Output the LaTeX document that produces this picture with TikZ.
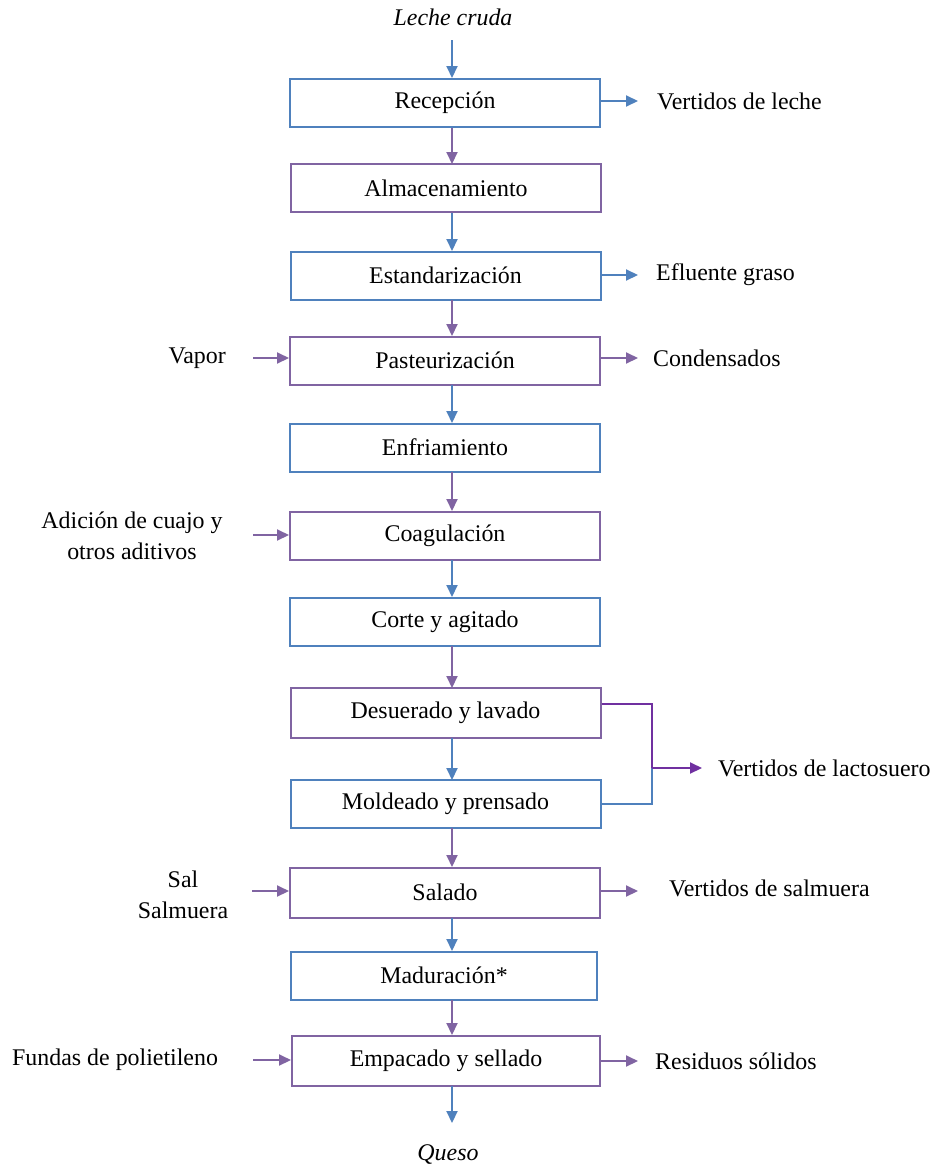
\documentclass[tikz,border=0pt]{standalone}
\usepackage{fontspec}
\setmainfont{Liberation Serif}
\usetikzlibrary{arrows.meta}
\definecolor{stepblue}{HTML}{4F81BD}
\definecolor{steppurple}{HTML}{8064A2}
\definecolor{deeppurple}{HTML}{7030A0}
\begin{document}
\begin{tikzpicture}[x=1pt,y=-1pt,
  font=\fontsize{23.9}{31}\selectfont,
  stepbox/.style={draw=#1,line width=2pt,minimum width=310pt,minimum height=48pt,inner sep=0pt,fill=white},
  flow/.style={draw=#1,line width=2pt,-{Triangle[length=12pt,width=11pt,fill=#1]}},
  lbl/.style={inner sep=0pt,anchor=center},
  lblw/.style={inner sep=0pt,anchor=west},
  lble/.style={inner sep=0pt,anchor=east}]
\useasboundingbox (0,0) rectangle (934,1167);
\fill[white] (0,0) rectangle (934,1167);

% process steps
\node[stepbox=stepblue]   (rec) at (445,103) {Recepción};
\node[stepbox=steppurple] (alm) at (446,188) {Almacenamiento};
\node[stepbox=stepblue]   (est) at (445.5,275.5) {Estandarización};
\node[stepbox=steppurple] (pas) at (445,360.5) {Pasteurización};
\node[stepbox=stepblue]   (enf) at (445,447.5) {Enfriamiento};
\node[stepbox=steppurple] (coa) at (445,535.5) {Coagulación};
\node[stepbox=stepblue]   (cor) at (445,621.5) {Corte y agitado};
\node[stepbox=steppurple,minimum height=50pt] (des) at (445.5,713) {Desuerado y lavado};
\node[stepbox=stepblue]   (mol) at (445.5,804) {Moldeado y prensado};
\node[stepbox=steppurple,minimum height=50pt] (sal) at (445,892.5) {Salado};
\node[stepbox=stepblue,minimum width=306pt] (mad) at (444,975.5) {Maduración*};
\node[stepbox=steppurple,minimum width=308pt,minimum height=50pt] (emp) at (446,1060.5) {Empacado y sellado};

% input and product
\node[lbl] (leche) at (453,17) {\itshape Leche cruda};
\node[lbl] (queso) at (448,1155) {\itshape Queso};
\coordinate (lecheend) at (452,40);
\coordinate (quesoend) at (452,1123);

% main line of flow
\draw[flow=stepblue]   (lecheend) -- (lecheend |- rec.north);
\draw[flow=steppurple] (452,128) -- (452,164);
\draw[flow=stepblue]   (452,213) -- (452,251);
\draw[flow=steppurple] (452,300) -- (452,336);
\draw[flow=stepblue]   (452,385) -- (452,423);
\draw[flow=steppurple] (452,472) -- (452,511);
\draw[flow=stepblue]   (452,560) -- (452,597);
\draw[flow=steppurple] (452,646) -- (452,688);
\draw[flow=stepblue]   (452,738) -- (452,780);
\draw[flow=steppurple] (452,828) -- (452,867);
\draw[flow=stepblue]   (452,918) -- (452,951);
\draw[flow=steppurple] (452,1000) -- (452,1035);
\draw[flow=stepblue]   (452,1086) -- (quesoend);

% inputs on the left
\node[lble] (vapor) at (226,358) {Vapor};
\node[lbl,align=center] (cuajo) at (132,536) {Adición de cuajo y\\otros aditivos};
\node[lbl,align=center] (salin) at (183,895) {Sal\\Salmuera};
\node[lblw] (fundas) at (12,1060) {Fundas de polietileno};
\coordinate (vapin) at (253,358);
\coordinate (cuain) at (253,535);
\coordinate (salinc) at (252,891);
\coordinate (funin) at (253,1060);
\draw[flow=steppurple] (vapin) -- (vapin -| pas.west);
\draw[flow=steppurple] (cuain) -- (cuain -| coa.west);
\draw[flow=steppurple] (salinc) -- (salinc -| sal.west);
\draw[flow=steppurple] (funin) -- (funin -| emp.west);

% outputs on the right
\node[lblw] (vleche) at (657,101) {Vertidos de leche};
\node[lblw] (efl) at (656,275) {Efluente graso};
\node[lblw] (cond) at (653,358) {Condensados};
\node[lblw] (lacto) at (718,768) {Vertidos de lactosuero};
\node[lblw] (vsal) at (669,888) {Vertidos de salmuera};
\node[lblw] (resid) at (655,1061) {Residuos sólidos};
\coordinate (recout) at (638,101);
\coordinate (estout) at (638,275);
\coordinate (pasout) at (638,358);
\coordinate (salout) at (638,891);
\coordinate (empout) at (638,1061);
\draw[flow=stepblue]   (recout -| rec.east) -- (recout);
\draw[flow=stepblue]   (estout -| est.east) -- (estout);
\draw[flow=steppurple] (pasout -| pas.east) -- (pasout);
\draw[flow=steppurple] (salout -| sal.east) -- (salout);
\draw[flow=steppurple] (empout -| emp.east) -- (empout);

% whey collected from two steps
\coordinate (join) at (652,768);
\coordinate (lactoend) at (702,768);
\draw[deeppurple,line width=2pt] (des.east |- 0,704) -| (join);
\draw[stepblue,line width=2pt] (mol.east |- 0,804) -| (join);
\draw[flow=deeppurple] (join) -- (lactoend);
\end{tikzpicture}
\end{document}
